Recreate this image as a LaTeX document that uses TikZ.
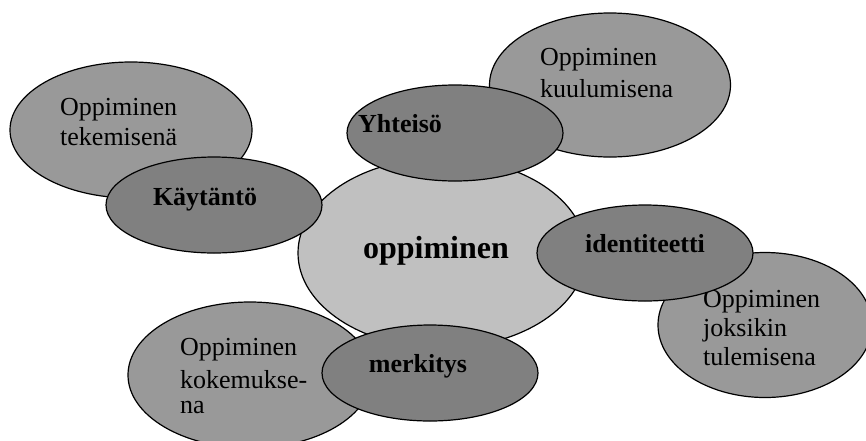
\documentclass[tikz,border=0pt]{standalone}
\usepackage{fontspec}
\setmainfont{Liberation Serif}
\usetikzlibrary{shapes.geometric}
\definecolor{outerfill}{HTML}{999999}
\definecolor{smallfill}{HTML}{808080}
\definecolor{centerfill}{HTML}{C0C0C0}
\tikzset{
  blob/.style={ellipse, draw=black, line width=1.2pt, inner sep=0pt, outer sep=0pt},
  outerblob/.style={blob, fill=outerfill},
  smallblob/.style={blob, fill=smallfill, minimum width=216pt, minimum height=96pt},
  centerblob/.style={blob, fill=centerfill},
  lighttext/.style={inner sep=0pt, font=\fontsize{26}{30}\selectfont},
  boldtext/.style={inner sep=0pt, font=\fontsize{26}{30}\selectfont\bfseries},
  bigboldtext/.style={inner sep=0pt, font=\fontsize{32}{36}\selectfont\bfseries}
}
\begin{document}
\begin{tikzpicture}[x=1pt,y=-1pt]
\useasboundingbox (0,0) rectangle (866,440);
\begin{scope}
\clip (0,0) rectangle (866,440);
% outer ellipses
\node[outerblob, minimum width=242pt, minimum height=136pt] (tek) at (131,130) {};
\node[lighttext, anchor=base west] (tekA) at (60,115) {Oppiminen};
\node[lighttext, anchor=base west] (tekB) at (60,145) {tekemisenä};

\node[outerblob, minimum width=241pt, minimum height=144pt] (kuu) at (610,85) {};
\node[lighttext, anchor=base west] (kuuA) at (540,65) {Oppiminen};
\node[lighttext, anchor=base west] (kuuB) at (540,97) {kuulumisena};

\node[outerblob, minimum width=214pt, minimum height=145pt] (jok) at (765,325) {};
\node[lighttext, anchor=base west] (jokA) at (703,307) {Oppiminen};
\node[lighttext, anchor=base west] (jokB) at (703,336) {joksikin};
\node[lighttext, anchor=base west] (jokC) at (703,365) {tulemisena};

\node[outerblob, minimum width=244pt, minimum height=146pt] (kok) at (250,375) {};
\node[lighttext, anchor=base west] (kokA) at (180,355) {Oppiminen};
\node[lighttext, anchor=base west] (kokB) at (180,388) {kokemukse-};
\node[lighttext, anchor=base west] (kokC) at (180,413) {na};

% central ellipse
\node[centerblob, minimum width=288pt, minimum height=190pt] (opp) at (442,253) {};
\node[bigboldtext, anchor=base] (oppT) at (436,258) {oppiminen};

% small ellipses
\node[smallblob] (kay) at (214,205) {};
\node[boldtext, anchor=base] (kayT) at (205,205) {Käytäntö};

\node[smallblob] (yht) at (455,133) {};
\node[boldtext, anchor=base] (yhtT) at (400,132) {Yhteisö};

\node[smallblob] (ide) at (645,253) {};
\node[boldtext, anchor=base] (ideT) at (645,252) {identiteetti};

\node[smallblob] (mer) at (430,373) {};
\node[boldtext, anchor=base] (merT) at (418,372) {merkitys};
\end{scope}
\end{tikzpicture}
\end{document}
